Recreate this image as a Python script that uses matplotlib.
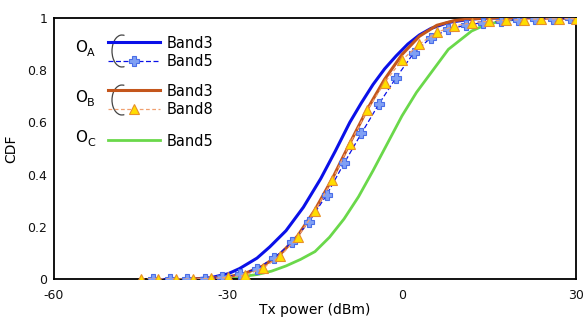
import matplotlib
matplotlib.use('Agg')
import matplotlib.pyplot as plt
from matplotlib.lines import Line2D
from matplotlib.patches import Arc

# O_A Band3 (solid blue)
oa_b3_x = [-36, -33, -30, -28, -25, -22.8, -20, -17, -14, -11.5, -9, -7, -5, -3, -1, 1, 3, 5, 8, 12, 15, 30]
oa_b3_y = [0, 0.005, 0.02, 0.04, 0.08, 0.123, 0.185, 0.275, 0.385, 0.49, 0.6, 0.675, 0.745, 0.805, 0.855, 0.9, 0.935, 0.96, 0.983, 0.996, 1.0, 1.0]

# O_A Band5 (dashed blue, cross markers)
oa_b5_x = [-43, -40, -37, -34, -31, -28, -25, -22, -19, -16, -13, -10, -7, -4, -1, 2, 5, 8, 11, 14, 17, 20, 23, 26, 29]
oa_b5_y = [0, 0, 0, 0, 0.006, 0.018, 0.04, 0.082, 0.14, 0.22, 0.322, 0.443, 0.558, 0.67, 0.772, 0.865, 0.925, 0.956, 0.973, 0.982, 0.987, 0.994, 0.997, 0.998, 0.999]

# O_B Band3 (solid orange)
ob_b3_x = [-36, -33, -30, -27, -24, -21, -18, -15, -12, -9, -6, -3, 0, 3, 6, 9, 12, 15, 30]
ob_b3_y = [0, 0.003, 0.008, 0.022, 0.05, 0.095, 0.165, 0.265, 0.385, 0.52, 0.65, 0.765, 0.86, 0.93, 0.972, 0.99, 0.997, 1.0, 1.0]

# O_B Band8 (dashed light orange, triangle markers)
ob_b8_x = [-45, -42, -39, -36, -33, -30, -27, -24, -21, -18, -15, -12, -9, -6, -3, 0, 3, 6, 9, 12, 15, 18, 21, 24, 27, 30]
ob_b8_y = [0, 0, 0, 0, 0.002, 0.006, 0.015, 0.041, 0.087, 0.16, 0.261, 0.38, 0.518, 0.646, 0.752, 0.839, 0.90, 0.945, 0.969, 0.982, 0.988, 0.992, 0.994, 0.996, 0.997, 0.998]

# O_C Band5 (solid green)
oc_b5_x = [-34, -31, -28, -25, -22.5, -20, -17.5, -15, -12.5, -10, -7.5, -5, -2.5, 0, 2.5, 5, 8, 12, 14, 17, 20, 23, 30]
oc_b5_y = [0, 0.003, 0.008, 0.017, 0.03, 0.05, 0.075, 0.105, 0.16, 0.23, 0.315, 0.415, 0.52, 0.625, 0.715, 0.79, 0.88, 0.95, 0.97, 0.988, 0.996, 1.0, 1.0]

xticks = [-60, -30, 0, 30]
yticks = [0, 0.2, 0.4, 0.6, 0.8, 1]
ytick_labels = ['0', '0.2', '0.4', '0.6', '0.8', '1']

W, H = 585, 320
BLUE = '#0a10e8'
ORANGE = '#c4561c'
LORANGE = '#f0a070'
GREEN = '#6ad84a'

fig = plt.figure(figsize=(W / 100, H / 100), dpi=100)
ax = fig.add_axes([54 / W, 1 - 279 / H, (576 - 54) / W, (279 - 18) / H])

ax.plot(oc_b5_x, oc_b5_y, color=GREEN, lw=2.0, zorder=2)
ax.plot(oa_b3_x, oa_b3_y, color=BLUE, lw=2.2, zorder=3)
ax.plot(ob_b3_x, ob_b3_y, color=ORANGE, lw=2.2, zorder=3)
ax.plot(oa_b5_x, oa_b5_y, color=BLUE, lw=0.9, ls=(0, (4, 2)), marker='P', ms=6.5,
        mfc='#80a0f4', mec='#4a6ee8', mew=0.8, zorder=4)
ax.plot(ob_b8_x, ob_b8_y, color=LORANGE, lw=0.9, ls=(0, (3, 2)), marker='^', ms=6.5,
        mfc='#ffdd00', mec='#e8902a', mew=0.8, zorder=5)

ax.set_xlim(-60, 30)
ax.set_ylim(0, 1)
ax.set_xticks(xticks)
ax.set_xticklabels([str(t) for t in xticks])
ax.set_yticks(yticks)
ax.set_yticklabels(ytick_labels)
ax.tick_params(length=0, labelsize=9, colors='#111111')
ax.tick_params(axis='x', pad=7)
ax.tick_params(axis='y', pad=5)
for s in ax.spines.values():
    s.set_linewidth(1.3)
ax.set_xlabel('Tx power (dBm)', fontsize=10, labelpad=1)
ax.set_ylabel('CDF', fontsize=10, labelpad=6)


# legend drawn by hand in figure pixels
def fx(px):
    return px / W


def fy(py):
    return 1 - py / H


def leg_line(py, color, lw, ls='-', marker=None, **kw):
    fig.add_artist(Line2D([fx(108), fx(160)], [fy(py), fy(py)], color=color, lw=lw, ls=ls,
                          transform=fig.transFigure))
    if marker:
        fig.add_artist(Line2D([fx(134)], [fy(py)], marker=marker, ls='none',
                              transform=fig.transFigure, **kw))


def leg_text(py, s):
    fig.text(fx(167), fy(py), s, fontsize=10.5, va='center', ha='left')


def group_label(py, sub):
    fig.text(fx(75), fy(py), 'O', fontsize=11, va='center', ha='left')
    fig.text(fx(87), fy(py + 6), sub, fontsize=8, va='center', ha='left')


def brace(cy, h):
    fig.add_artist(Arc((fx(122), fy(cy)), 20 / W, h / H, theta1=85, theta2=275,
                       color='#444444', lw=0.9, transform=fig.transFigure))


group_label(47, 'A')
leg_line(42, BLUE, 2.2)
leg_text(43, 'Band3')
leg_line(61, BLUE, 0.9, ls=(0, (4, 2)), marker='P', ms=6.5, mfc='#80a0f4', mec='#4a6ee8', mew=0.8)
leg_text(61, 'Band5')
brace(51, 32)

group_label(97, 'B')
leg_line(90, ORANGE, 2.2)
leg_text(91, 'Band3')
leg_line(109, LORANGE, 0.9, ls=(0, (3, 2)), marker='^', ms=6.5, mfc='#ffdd00', mec='#e8902a', mew=0.8)
leg_text(109, 'Band8')
brace(100, 30)

group_label(137, 'C')
leg_line(140, GREEN, 2.0)
leg_text(142, 'Band5')

fig.savefig('out.png', dpi=100)
